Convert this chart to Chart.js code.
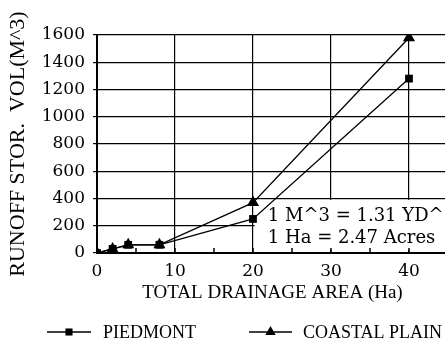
<!DOCTYPE html>
<html>
<head>
<meta charset="utf-8">
<script src="https://cdn.jsdelivr.net/npm/chart.js@4/dist/chart.umd.min.js"></script>
<style>
  html, body { margin: 0; padding: 0; overflow: hidden; background: #fff; }
  #wrap { width: 448px; height: 344px; }
</style>
</head>
<body>
<div id="wrap"><canvas id="c" width="448" height="344"></canvas></div>
<script>
(function () {
  "use strict";

  /* ---- data -------------------------------------------------------- */
  var areaHa = [0, 2, 4, 8, 20, 40];
  var piedmont = [0, 30, 60, 60, 250, 1280];
  var coastal = [0, 30, 60, 60, 370, 1580];
  var seriesNames = ["PIEDMONT", "COASTAL PLAIN"];
  var xTickMarks = [5, 10, 15, 20, 25, 30, 35, 40];
  var noteLines = ["1 M^3 = 1.31 YD^3", "1 Ha = 2.47 Acres"];

  var INK = "#000";
  var SERIF = "'Liberation Serif', 'Times New Roman', serif";
  var DSERIF = "'DejaVu Serif', serif";

  var pts = function (ys) {
    return areaHa.map(function (x, i) { return { x: x, y: ys[i] }; });
  };

  /* small square / triangle, same shapes as the data markers */
  var marker = function (ctx, style, x, y, r) {
    ctx.beginPath();
    if (style === "rect") {
      var s = r * Math.SQRT1_2;
      ctx.rect(x - s, y - s, 2 * s, 2 * s);
    } else {
      ctx.moveTo(x, y - r);
      ctx.lineTo(x + r * 0.866, y + r * 0.5);
      ctx.lineTo(x - r * 0.866, y + r * 0.5);
      ctx.closePath();
    }
    ctx.fill();
  };

  /* conversion note box, short inner ticks on the x axis */
  var notePlugin = {
    id: "note",
    beforeDatasetsDraw: function (chart) {
      var ctx = chart.ctx;
      var xs = chart.scales.x, ys = chart.scales.y;
      ctx.save();
      ctx.fillStyle = "#fff";
      var l = xs.getPixelForValue(20.2), r = xs.getPixelForValue(45);
      var t = ys.getPixelForValue(390), b = ys.getPixelForValue(22);
      ctx.fillRect(l, t, r - l, b - t);

      ctx.strokeStyle = INK;
      ctx.lineWidth = 1.5;
      var y0 = ys.getPixelForValue(0);
      xTickMarks.forEach(function (v) {
        var px = xs.getPixelForValue(v);
        ctx.beginPath();
        ctx.moveTo(px, y0);
        ctx.lineTo(px, y0 - 5);
        ctx.stroke();
      });

      ctx.fillStyle = INK;
      ctx.font = "18px " + DSERIF;
      ctx.textBaseline = "alphabetic";
      ctx.fillText(noteLines[0], xs.getPixelForValue(21.9), ys.getPixelForValue(236));
      ctx.fillText(noteLines[1], xs.getPixelForValue(21.9), ys.getPixelForValue(74));
      ctx.restore();
    },
  };

  /* legend: line + marker sample, like the plotter legend */
  var legendPlugin = {
    id: "lineLegend",
    afterDraw: function (chart) {
      var ctx = chart.ctx;
      var slots = [{ x0: 47, x1: 91, tx: 103 }, { x0: 249, x1: 292, tx: 303 }];
      var y = 332;
      ctx.save();
      ctx.strokeStyle = INK;
      ctx.fillStyle = INK;
      ctx.lineWidth = 1.5;
      ctx.font = "18px " + SERIF;
      ctx.textBaseline = "middle";
      chart.data.datasets.forEach(function (ds, i) {
        var s = slots[i];
        ctx.beginPath();
        ctx.moveTo(s.x0, y);
        ctx.lineTo(s.x1, y);
        ctx.stroke();
        marker(ctx, ds.pointStyle, (s.x0 + s.x1) / 2, y, ds.pointStyle === "rect" ? 5 : 6);
        ctx.fillText(ds.label, s.tx, y + 1);
      });
      ctx.restore();
    },
  };

  var tickFont = { family: DSERIF, size: 17 };

  new Chart(document.getElementById("c"), {
    type: "line",
    data: {
      datasets: [{
        label: seriesNames[0],
        data: pts(piedmont),
        order: 1,
        borderColor: INK,
        backgroundColor: INK,
        borderWidth: 1.3,
        pointStyle: "rect",
        pointRadius: 5.5,
        pointBorderWidth: 0,
        tension: 0,
      }, {
        label: seriesNames[1],
        data: pts(coastal),
        order: 0,
        borderColor: INK,
        backgroundColor: INK,
        borderWidth: 1.3,
        pointStyle: "triangle",
        pointRadius: 7,
        pointBorderWidth: 0,
        tension: 0,
      }],
    },
    options: {
      responsive: false,
      animation: false,
      devicePixelRatio: 1,
      layout: {
        autoPadding: false,      /* plot area runs off the right edge */
        padding: { top: 35, right: 0, bottom: 33, left: 0 },
      },
      plugins: {
        legend: { display: false },
        tooltip: { enabled: false },
      },
      scales: {
        x: {
          type: "linear",
          min: 0,
          max: 45,
          afterFit: function (s) {
            s.height = 58;
            s.paddingLeft = 0;
            s.paddingRight = 0;
          },
          ticks: {
            stepSize: 10,
            padding: 8,
            color: INK,
            font: tickFont,
            maxRotation: 0,
            callback: function (v) { return v % 10 === 0 ? String(v) : ""; },
          },
          grid: { color: INK, lineWidth: 1.2, drawTicks: false },
          border: { color: INK, width: 2 },
          title: {
            display: true,
            text: "TOTAL DRAINAGE AREA (Ha)",
            color: INK,
            font: { family: SERIF, size: 19 },
            padding: { top: 0, bottom: 7 },
          },
        },
        y: {
          min: 0,
          max: 1600,
          afterFit: function (s) { s.width = 97; },
          ticks: {
            stepSize: 200,
            padding: 8,
            color: INK,
            font: tickFont,
            callback: function (v) { return String(v); },
          },
          grid: { color: INK, lineWidth: 1.2, tickLength: 4 },
          border: { color: INK, width: 2 },
          title: {
            display: true,
            text: "RUNOFF STOR.  VOL(M^3)",
            color: INK,
            font: { family: SERIF, size: 22 },
            padding: { top: 5, bottom: 0 },
          },
        },
      },
    },
    plugins: [notePlugin, legendPlugin],
  });
})();
</script>
</body>
</html>
